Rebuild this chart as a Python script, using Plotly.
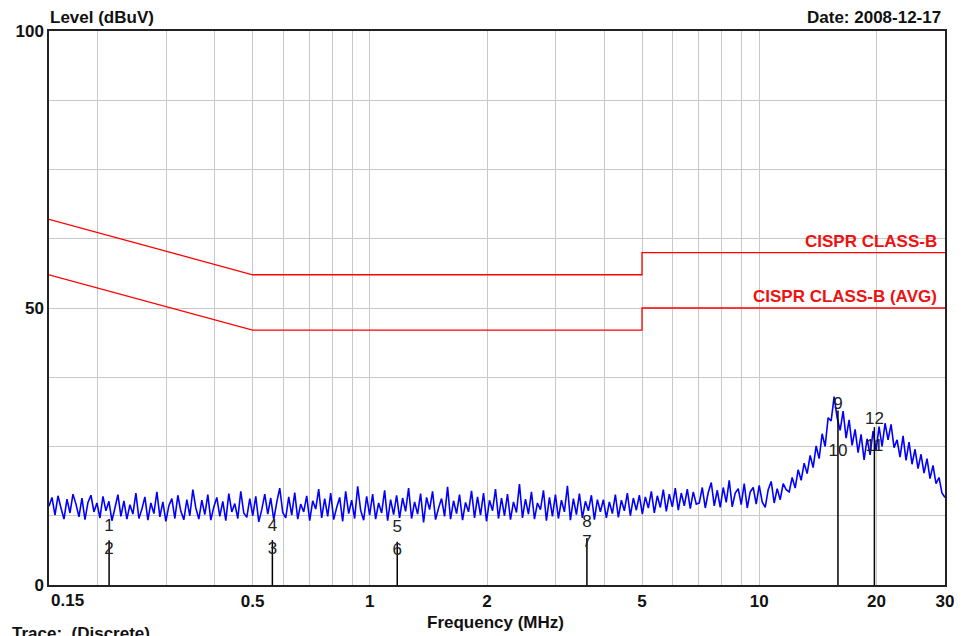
import numpy as np
import plotly.graph_objects as go

# ---------------- data ----------------
F_START, F_STOP = 0.15, 30.0  # MHz sweep

trace_level = [
    # 0.15 .. ~4 MHz : flat noise floor
    14.2, 15.8, 12.6, 16.1, 13.9, 11.9, 15.5, 13.0, 16.4, 14.6, 12.3, 15.7, 11.8, 14.9, 16.2, 13.2, 14.8, 12.1, 16.0, 13.4,
    15.1, 11.6, 13.9, 16.3, 12.4, 15.2, 11.9, 14.5, 12.8, 16.6, 12.0, 13.7, 15.9, 11.7, 14.8, 12.9, 16.8, 12.3, 15.0, 11.5,
    14.3, 15.6, 12.0, 16.2, 13.3, 11.8, 15.4, 12.5, 17.2, 13.9, 11.9, 15.3, 12.7, 16.3, 11.7, 14.1, 15.8, 12.4, 15.1, 11.6,
    16.5, 13.2, 14.7, 12.0, 16.9, 13.0, 12.2, 15.6, 12.5, 16.0, 11.4, 13.6, 16.4, 12.8, 15.7, 11.8, 14.9, 17.5, 13.1, 12.1,
    15.9, 12.6, 16.7, 11.9, 14.6, 13.2, 16.1, 11.6, 15.2, 13.7, 17.3, 12.1, 15.6, 12.4, 16.6, 11.8, 14.0, 15.8, 11.5, 16.9,
    12.9, 15.3, 12.0, 17.8, 13.5, 11.7, 16.0, 12.6, 16.4, 11.9, 14.8, 13.0, 17.1, 11.6, 15.4, 12.7, 16.2, 12.1, 15.7, 13.3,
    17.5, 12.0, 15.0, 12.8, 16.5, 11.3, 15.8, 13.6, 16.9, 11.8, 13.9, 15.6, 12.4, 17.7, 11.9, 15.2, 12.9, 16.3, 11.7, 14.9,
    13.2, 17.0, 12.1, 15.9, 12.6, 16.6, 11.5, 15.3, 13.4, 17.3, 12.0, 15.7, 12.5, 16.4, 11.8, 15.0, 13.1, 18.2, 12.1, 15.5,
    12.8, 16.8, 11.9, 14.8, 13.6, 17.1, 11.6, 15.8, 12.4, 16.3, 12.0, 15.3, 13.2, 17.9, 11.7, 15.6, 12.7, 16.5, 12.1, 15.1,
    13.4, 16.2, 11.8, 15.4,
    # ~4 .. 7 MHz : slow rise
    13.2, 15.4, 12.1, 15.0, 12.9, 16.3, 12.2, 15.3, 13.4, 16.6, 12.5, 15.7, 13.5, 16.2, 12.8, 15.9, 13.9,
    16.9, 13.0, 16.1, 14.0, 17.2, 13.3, 16.4, 14.1, 17.5, 13.5, 16.6, 14.3, 17.3, 13.8, 16.8, 14.6,
    # 7 .. 12 MHz
    14.8, 17.6, 13.9, 16.7, 18.5, 14.3, 17.1, 14.0, 17.6, 14.9, 18.9, 14.1, 16.6, 17.4, 14.5,
    18.3, 13.9, 16.8, 17.6, 14.6, 18.0, 15.0, 14.0, 17.2, 18.7, 14.8, 17.4, 15.4, 18.3, 17.2,
    # 12 .. 16 MHz : rise to peak
    16.8, 19.4, 17.5, 20.8, 18.9, 22.0, 20.1, 23.4, 21.2, 25.1, 22.8, 27.3, 25.0, 30.2, 29.6, 34.0,
    # 16 .. 30 MHz
    30.2, 27.9, 31.4, 26.5, 29.8, 25.2, 28.1, 23.9, 27.2, 22.6, 26.4, 23.5, 27.8, 24.3, 28.6, 25.0, 29.2, 26.2, 29.0,
    24.8, 26.2, 23.1, 26.9, 22.5, 25.8, 21.8, 24.5, 21.0, 23.6, 20.2, 22.8, 19.2, 21.6, 18.3, 19.4, 16.6, 15.8,
]
trace_freq = np.geomspace(F_START, F_STOP, len(trace_level))  # log-spaced sweep points

# CISPR 22 class B limits
limit_freq = [0.15, 0.5, 5, 5, 30]
limit_qp = [66, 56, 56, 60, 60]
limit_avg = [56, 46, 46, 50, 50]

# discrete markers: frequency, upper label level, lower label level, stem height
marker_freq = [0.214, 0.562, 1.176, 3.61, 15.93, 19.76]
marker_top_txt = ["1", "4", "5", "8", "9", "12"]
marker_top_lvl = [10.5, 10.5, 10.3, 11.2, 32.5, 29.8]
marker_bot_txt = ["2", "3", "6", "7", "10", "11"]
marker_bot_lvl = [6.3, 6.3, 6.1, 7.6, 24.0, 24.9]
marker_stem = [8.1, 8.1, 7.8, 8.5, 31.5, 28.5]

x_grid = [0.15, 0.2, 0.3, 0.4, 0.5, 0.6, 0.7, 0.8, 0.9, 1, 2, 3, 4, 5, 6, 7, 8, 9, 10, 20, 30]
x_label = {0.5: "0.5", 1: "1", 2: "2", 5: "5", 10: "10", 20: "20", 30: "30"}
y_grid = [0, 12.5, 25, 37.5, 50, 62.5, 75, 87.5, 100]
y_label = {0: "0", 50: "50", 100: "100"}

FONT = "Arial, Liberation Sans, sans-serif"
INK = "#111111"

# ---------------- figure ----------------
fig = go.Figure()

fig.add_trace(go.Scatter(x=trace_freq, y=trace_level, mode="lines",
                         line=dict(color="#0000ff", width=1.6), hoverinfo="skip"))

fig.add_trace(go.Scatter(x=limit_freq, y=limit_qp, mode="lines",
                         line=dict(color="#ff0000", width=1.3)))
fig.add_trace(go.Scatter(x=limit_freq, y=limit_avg, mode="lines",
                         line=dict(color="#ff0000", width=1.3)))

stem_x, stem_y = [], []
for f, h in zip(marker_freq, marker_stem):
    stem_x += [f, f, None]
    stem_y += [0, h, None]
fig.add_trace(go.Scatter(x=stem_x, y=stem_y, mode="lines",
                         line=dict(color="#000000", width=1.5)))

fig.add_trace(go.Scatter(x=marker_freq + marker_freq,
                         y=marker_top_lvl + marker_bot_lvl,
                         text=marker_top_txt + marker_bot_txt,
                         mode="text", textposition="middle center",
                         textfont=dict(family=FONT, size=17, color="#222222")))

bold = dict(family=FONT, size=17, color=INK, weight="bold")
red = dict(family=FONT, size=17, color="#ee1111", weight="bold")

fig.update_xaxes(type="log", range=[np.log10(F_START), np.log10(F_STOP)],
                 tickvals=x_grid, ticktext=[x_label.get(v, "") for v in x_grid],
                 showgrid=True, gridcolor="#c8c8c8", gridwidth=1,
                 showline=True, linecolor="#222222", linewidth=1.5, mirror=True,
                 ticks="", zeroline=False, tickfont=bold)
fig.update_yaxes(range=[0, 100],
                 tickvals=y_grid, ticktext=[y_label.get(v, "") for v in y_grid],
                 showgrid=True, gridcolor="#c8c8c8", gridwidth=1,
                 showline=True, linecolor="#222222", linewidth=1.5, mirror=True,
                 ticks="", zeroline=False, tickfont=bold)

# the page body adds an 8px margin, so the figure is sized/offset for that
fig.update_layout(
    width=954, height=628,
    margin=dict(l=41, r=17, t=23, b=51, autoexpand=False),
    paper_bgcolor="white", plot_bgcolor="white",
    showlegend=False,
    annotations=[
        dict(text="Level (dBuV)", xref="paper", yref="paper", x=-0.001, y=1.025,
             xanchor="left", yanchor="middle", showarrow=False, font=bold),
        dict(text="Date: 2008-12-17", xref="paper", yref="paper", x=0.998, y=1.025,
             xanchor="right", yanchor="middle", showarrow=False, font=bold),
        dict(text="0.15", xref="paper", yref="paper", x=0.0, y=-0.008,
             xanchor="left", yanchor="top", showarrow=False, font=bold),
        dict(text="Frequency (MHz)", xref="paper", yref="paper", x=0.498, y=-0.067,
             xanchor="center", yanchor="middle", showarrow=False, font=bold),
        dict(text="Trace:  (Discrete)", xref="paper", yref="paper", x=-0.044, y=-0.066,
             xanchor="left", yanchor="top", showarrow=False, font=bold),
        dict(text="CISPR CLASS-B", xref="paper", yref="y", x=0.993, y=limit_qp[-1],
             xanchor="right", yanchor="bottom", showarrow=False, font=red),
        dict(text="CISPR CLASS-B (AVG)", xref="paper", yref="y", x=0.993, y=limit_avg[-1],
             xanchor="right", yanchor="bottom", showarrow=False, font=red),
    ],
)

fig.write_html("out.html")
